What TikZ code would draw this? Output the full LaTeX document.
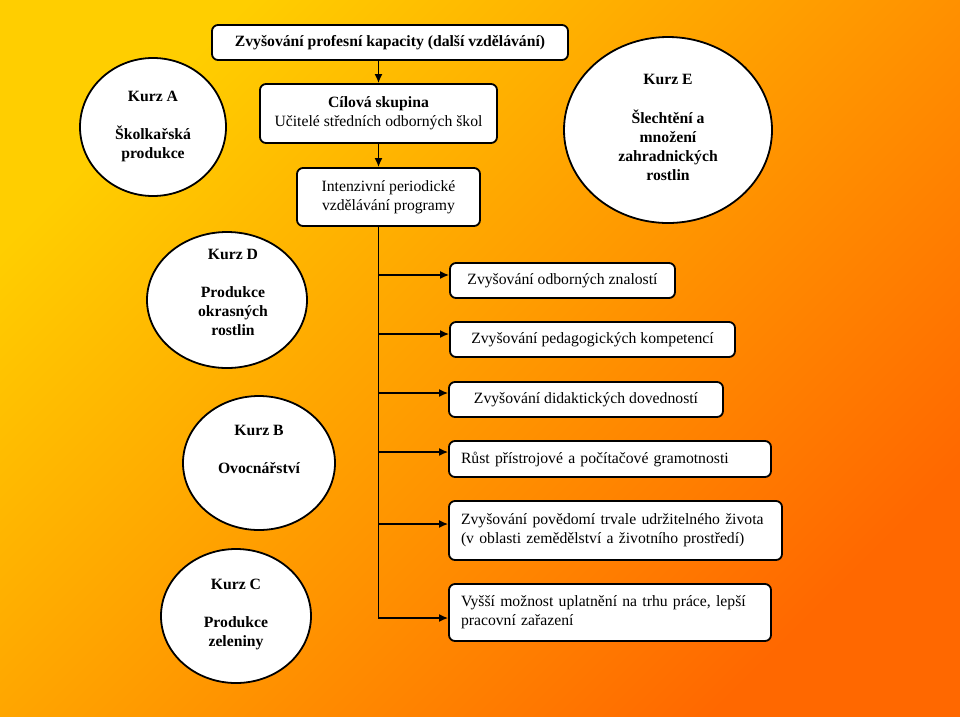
\documentclass[tikz,border=0pt]{standalone}
\usepackage{fontspec}
\setmainfont{Liberation Serif}
\usetikzlibrary{shapes.geometric,arrows.meta}
\definecolor{bgA}{RGB}{255,206,0}
\definecolor{bgB}{RGB}{255,104,0}
\begin{document}
\begin{tikzpicture}[x=1pt,y=-1pt,
  box/.style={draw,line width=1.8pt,fill=white,rounded corners=6pt,inner sep=0pt,align=center,
              font=\fontsize{15.7}{19}\selectfont},
  lbox/.style={box,align=left,inner xsep=12pt},
  oval/.style={draw,line width=1.8pt,fill=white,ellipse,inner sep=0pt},
  otext/.style={font=\fontsize{15.7}{19}\selectfont\bfseries,align=center,anchor=north,inner sep=0pt},
  arr/.style={line width=1.6pt,-{Latex[length=9pt,width=8pt]}}]
\shade[top color=bgA,bottom color=bgB,shading angle=45] (0,0) rectangle (960,716);
\useasboundingbox (0,0) rectangle (960,716);

% top chain
\node[box,minimum width=356pt,minimum height=35pt] (top) at (390,42.5)
  {\bfseries Zvyšování profesní kapacity (další vzdělávání)};
\node[box,minimum width=237pt,minimum height=59pt] (cil) at (378.5,113.5)
  {\bfseries Cílová skupina\\Učitelé středních odborných škol};
\node[box,minimum width=183pt,minimum height=58pt] (int) at (388.5,197)
  {Intenzivní periodické\\vzdělávání programy};

% right boxes
\node[box,minimum width=225pt,minimum height=35pt] (b1) at (562.5,280.5) {Zvyšování odborných znalostí};
\node[box,minimum width=285pt,minimum height=35pt] (b2) at (592.5,339.5) {Zvyšování pedagogických kompetencí};
\node[box,minimum width=274pt,minimum height=35pt] (b3) at (586,399.5) {Zvyšování didaktických dovedností};
\node[lbox,text width=298pt,minimum height=36pt] (b4) at (610,459) {Růst přístrojové a počítačové gramotnosti};
\node[lbox,text width=309pt,minimum height=59pt] (b5) at (615.5,530.5)
  {Zvyšování povědomí trvale udržitelného života\\(v oblasti zemědělství a životního prostředí)};
\node[lbox,text width=298pt,minimum height=57pt] (b6) at (610,612.5)
  {Vyšší možnost uplatnění na trhu práce, lepší\\pracovní zařazení};

% ovals
\node[oval,minimum width=146pt,minimum height=138pt] (ka) at (153,127) {};
\node[oval,minimum width=208pt,minimum height=186pt] (ke) at (668,130) {};
\node[oval,minimum width=160pt,minimum height=136pt] (kd) at (227,300) {};
\node[oval,minimum width=152pt,minimum height=134pt] (kb) at (259,463) {};
\node[oval,minimum width=150pt,minimum height=134pt] (kc) at (236,616) {};

\node[otext] (kat) at (153,91) {Kurz A\\[19pt]Školkařská\\produkce};
\node[otext] (ket) at (668,74) {Kurz E\\[20pt]Šlechtění a\\množení\\zahradnických\\rostlin};
\node[otext] (kdt) at (233,249) {Kurz D\\[19pt]Produkce\\okrasných\\rostlin};
\node[otext] (kbt) at (259,425) {Kurz B\\[19pt]Ovocnářství};
\node[otext] (kct) at (236,579) {Kurz C\\[19pt]Produkce\\zeleniny};

% connectors
\draw[arr] (top.south -| cil.north) -- (cil.north);
\draw[arr] (cil.south) -- (cil.south |- int.north);
\coordinate (e1) at ([yshift=5.5pt]b1.west);
\coordinate (e2) at ([yshift=5.5pt]b2.west);
\coordinate (e3) at ([yshift=6.5pt]b3.west);
\coordinate (e4) at ([yshift=7pt]b4.west);
\coordinate (e5) at ([yshift=6.5pt]b5.west);
\coordinate (e6) at ([yshift=-5.5pt]b6.west);
\draw[arr] (cil.south |- int.south) |- (e6);
\foreach \e in {e1,e2,e3,e4,e5}
  \draw[arr] (cil.south |- \e) -- (\e);
\end{tikzpicture}
\end{document}
